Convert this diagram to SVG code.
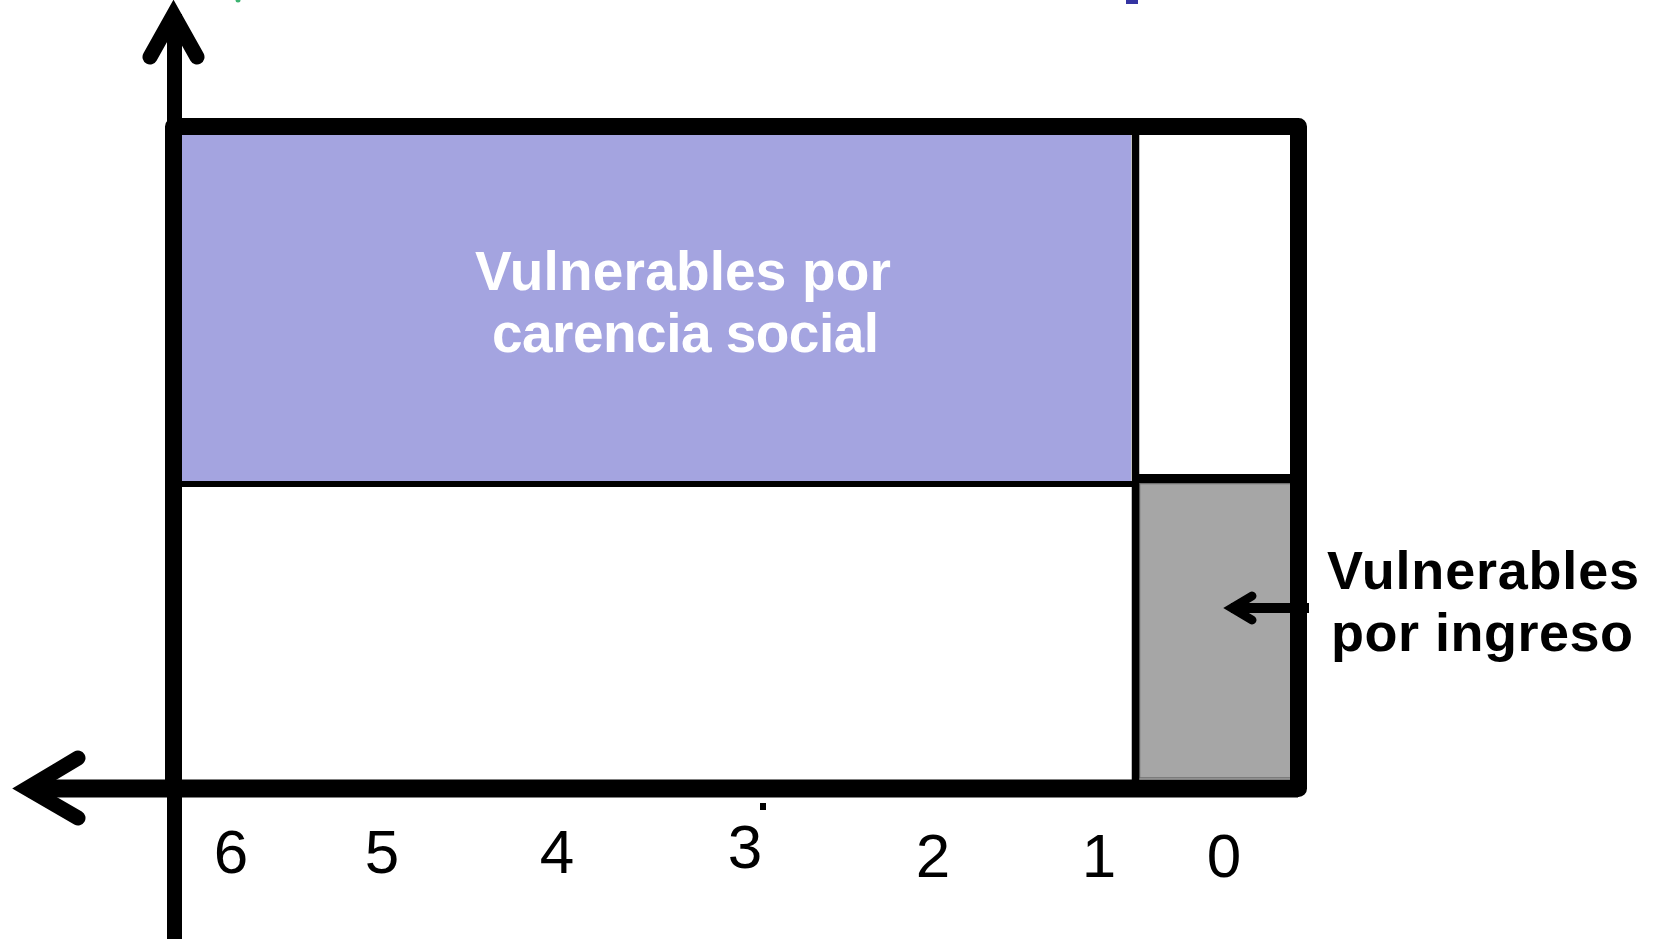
<svg xmlns="http://www.w3.org/2000/svg" width="1657" height="939" viewBox="0 0 1657 939">
  <style>
    .ax { fill: none; stroke: #000; stroke-width: 15; stroke-linecap: round; stroke-linejoin: miter; stroke-miterlimit: 10; }
    .frame { fill: none; stroke: #000; stroke-width: 17; stroke-linejoin: round; }
    .div { stroke: #000; fill: none; }
    .lbl { font-family: "Liberation Sans", Arial, sans-serif; font-weight: bold; }
    .num { font-family: "Liberation Sans", Arial, sans-serif; font-size: 62px; fill: #000; text-anchor: middle; }
  </style>
  <rect width="1657" height="939" fill="#fff"/>
  <rect x="1126" y="0" width="12" height="4" fill="#3434a2"/>
  <circle cx="238" cy="0" r="2.5" fill="#3cb371"/>

  <g id="carencia">
    <rect x="182" y="135" width="949" height="346" fill="#a4a4e0"/>
    <text class="lbl" x="475" y="290" font-size="55" fill="#fff" textLength="416" lengthAdjust="spacing">Vulnerables por</text>
    <text class="lbl" x="492" y="352" font-size="55" fill="#fff" textLength="387" lengthAdjust="spacing">carencia social</text>
  </g>

  <g id="blanco-superior">
    <rect x="1139" y="135" width="151" height="339" fill="#fff"/>
  </g>

  <g id="ingreso">
    <rect x="1139.5" y="483.5" width="152" height="294.5" fill="#a6a6a6" stroke="#6e6e6e" stroke-width="1.5"/>
  </g>

  <g id="blanco-inferior">
    <rect x="182" y="487" width="949" height="292" fill="#fff"/>
  </g>

  <g id="divisiones">
    <line class="div" x1="182" y1="484" x2="1135" y2="484" stroke-width="6"/>
    <line class="div" x1="1135.5" y1="135" x2="1135.5" y2="780" stroke-width="7.5"/>
    <line class="div" x1="1135" y1="478.5" x2="1290" y2="478.5" stroke-width="9"/>
  </g>

  <g id="connectors">
    <line x1="174.5" y1="14" x2="174.5" y2="939" stroke="#000" stroke-width="15"/>
    <polyline class="ax" points="150,57 173.5,15 197,57"/>
    <line x1="28" y1="788.5" x2="1298" y2="788.5" stroke="#000" stroke-width="18"/>
    <polyline class="ax" points="78,758 27,788.5 78,818"/>
    <line x1="1231" y1="608" x2="1309" y2="608" stroke="#000" stroke-width="10"/>
    <polyline class="ax" style="stroke-width:9" points="1252,596 1232,608 1252,620"/>
  </g>

  <g id="marco">
    <rect class="frame" x="173.5" y="126.5" width="1125" height="662"/>
  </g>

  <g id="etiqueta-ingreso">
    <text class="lbl" x="1327" y="589" font-size="54" fill="#000" textLength="312" lengthAdjust="spacing">Vulnerables</text>
    <text class="lbl" x="1331" y="651" font-size="54" fill="#000" textLength="302" lengthAdjust="spacing">por ingreso</text>
  </g>

  <g id="escala">
    <text class="num" x="231" y="873">6</text>
    <text class="num" x="382" y="873">5</text>
    <text class="num" x="557" y="873">4</text>
    <text class="num" x="745" y="868">3</text>
    <rect x="760" y="803" width="6" height="7" fill="#000"/>
    <text class="num" x="933" y="877">2</text>
    <text class="num" x="1099" y="877">1</text>
    <text class="num" x="1224" y="877">0</text>
  </g>
</svg>
